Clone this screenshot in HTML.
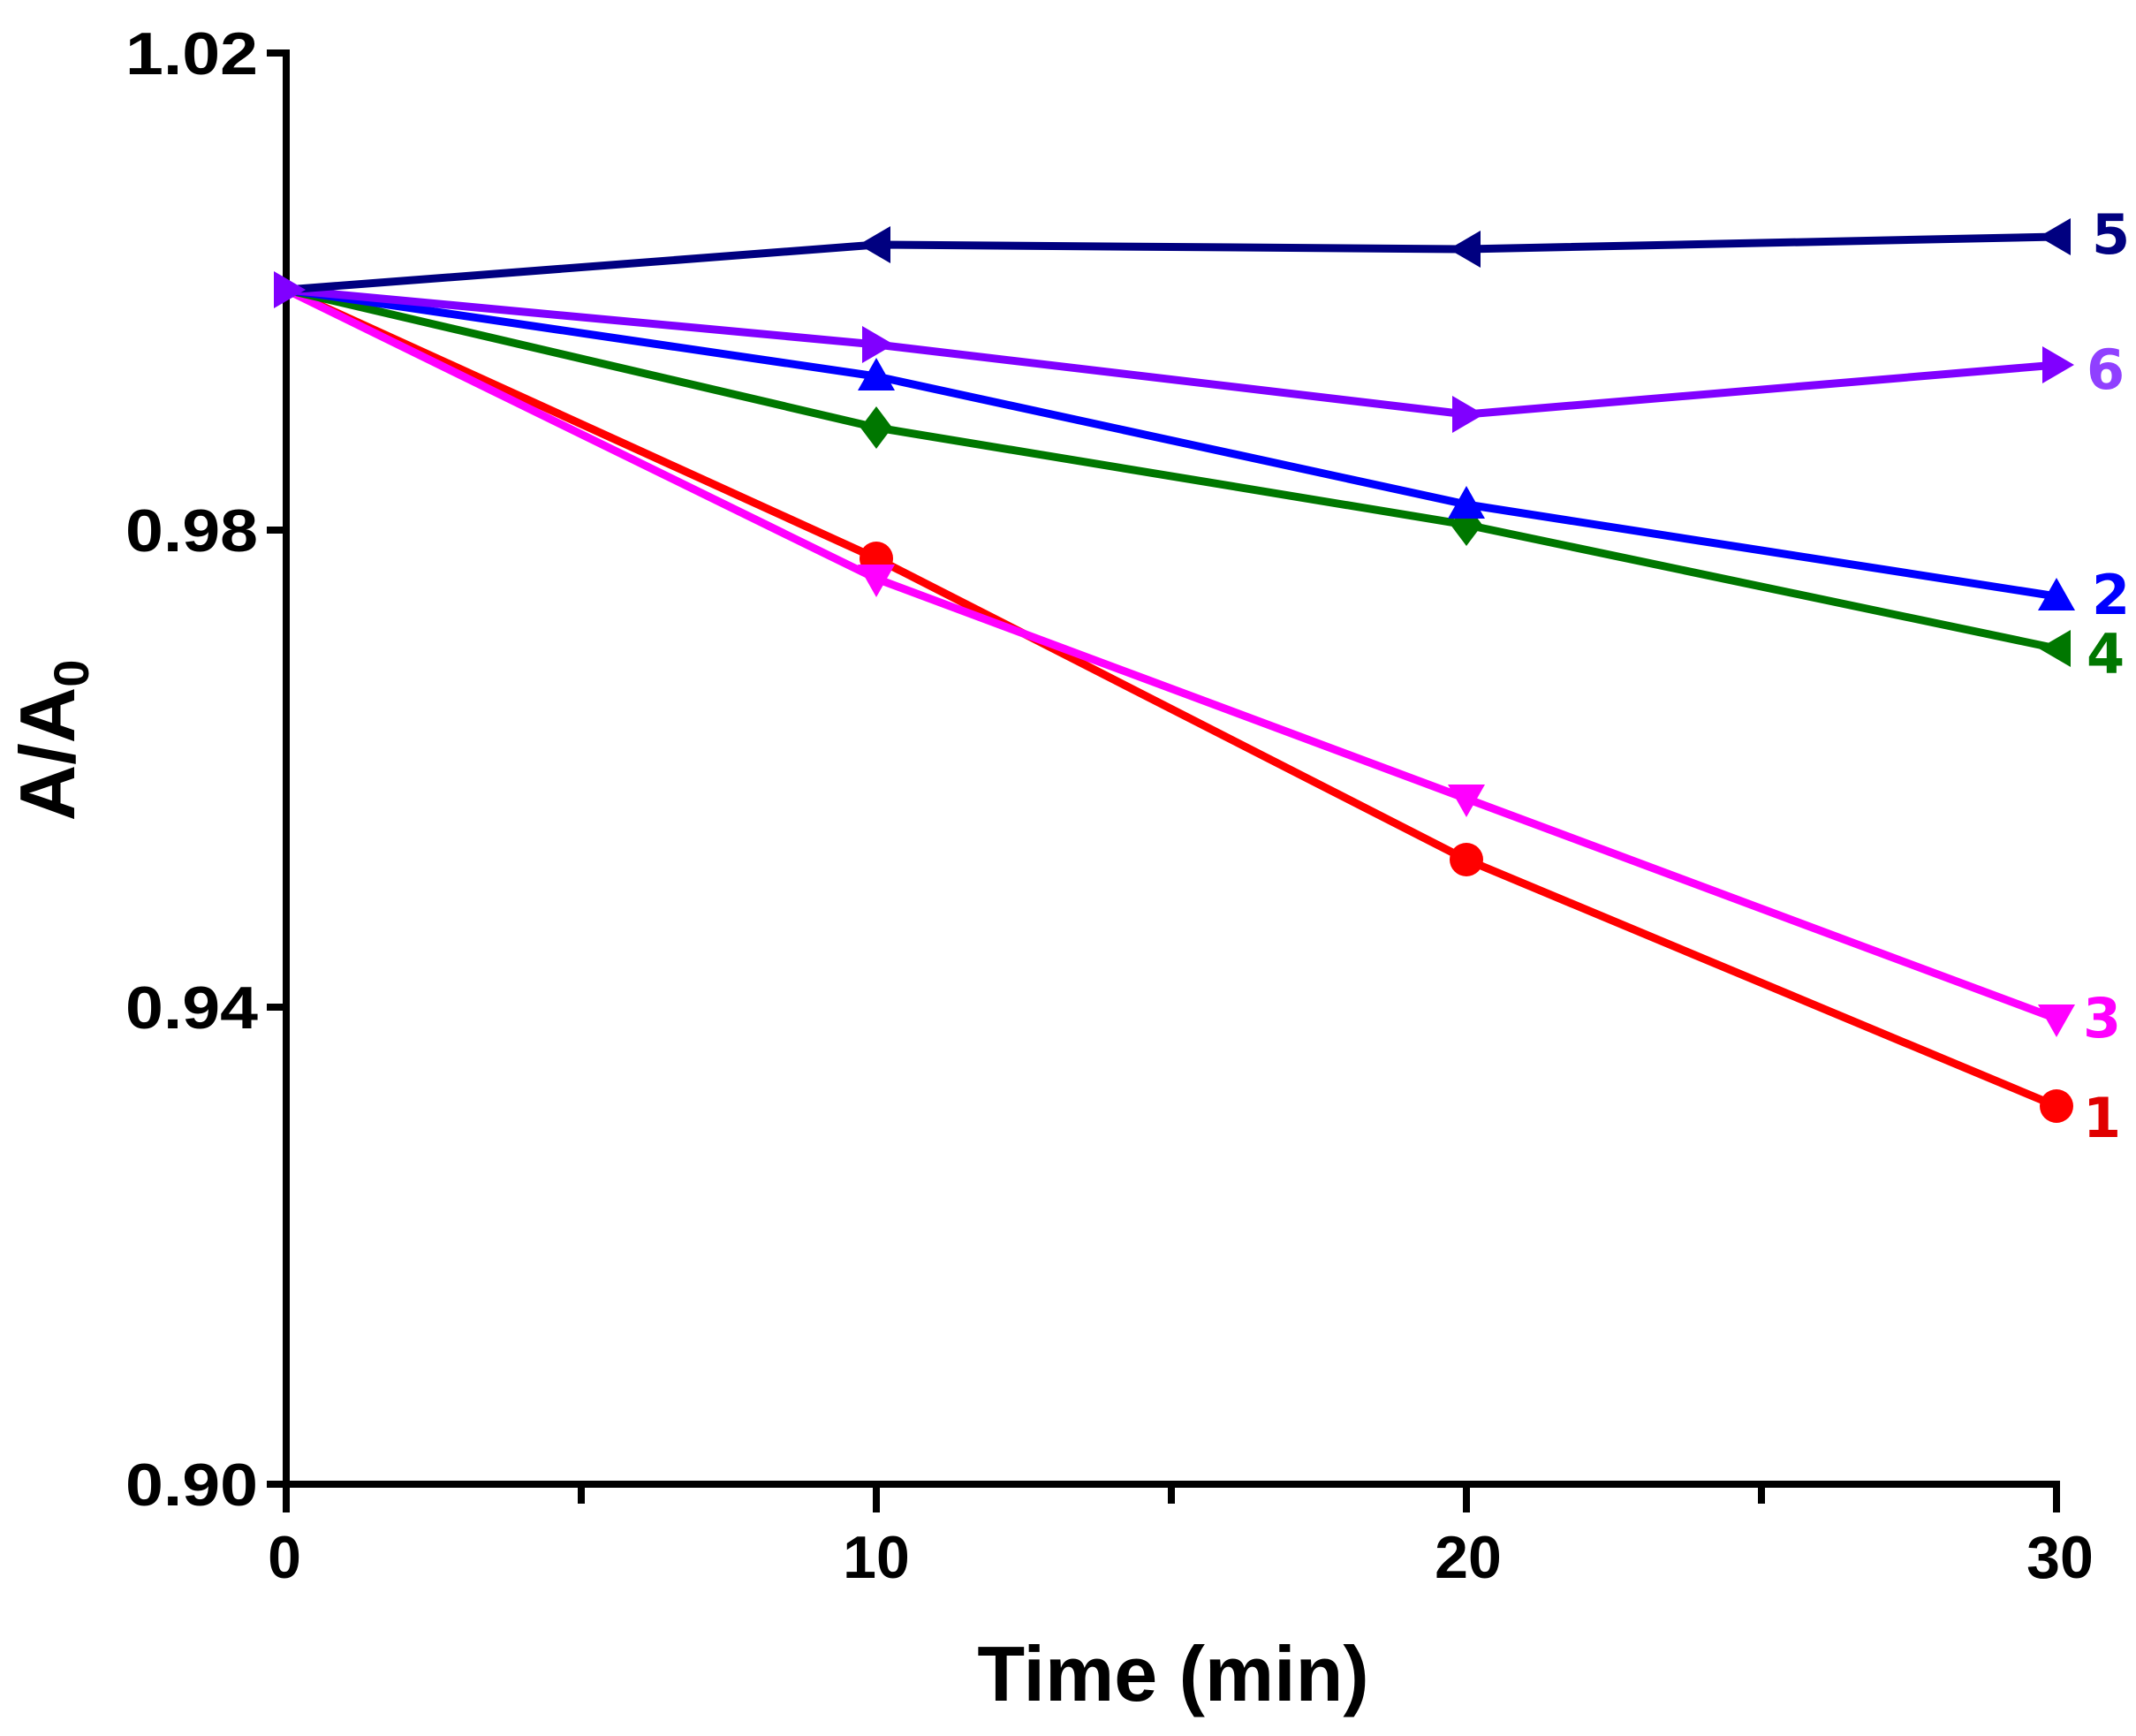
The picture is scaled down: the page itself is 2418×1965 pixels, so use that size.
<!DOCTYPE html>
<html><head><meta charset="utf-8"><style>html,body{margin:0;padding:0;background:#fff}</style></head>
<body>
<svg width="2418" height="1960" viewBox="0 0 2418 1960" xmlns="http://www.w3.org/2000/svg" font-family="Liberation Sans, Arial, sans-serif" font-weight="bold">
<rect width="2418" height="1960" fill="#fff"/>
<defs>
<path id="tl" d="M-20,0 L16,-21 L16,21 Z"/>
<path id="tr" d="M20,0 L-16,-21 L-16,21 Z"/>
<path id="tu" d="M0,-21 L21,16 L-21,16 Z"/>
<path id="td" d="M0,21 L21,-16 L-21,-16 Z"/>
<path id="dm" d="M0,-24 L18,0 L0,24 L-18,0 Z"/>
</defs>
<g stroke="#000" stroke-width="8" fill="none">
<line x1="324" y1="56" x2="324" y2="1684"/>
<line x1="320" y1="1680" x2="2332" y2="1680"/>
<line x1="302" y1="60" x2="324" y2="60"/>
<line x1="302" y1="600" x2="324" y2="600"/>
<line x1="302" y1="1140" x2="324" y2="1140"/>
<line x1="302" y1="1680" x2="324" y2="1680"/>
<line x1="324" y1="1680" x2="324" y2="1712"/>
<line x1="992" y1="1680" x2="992" y2="1712"/>
<line x1="1660" y1="1680" x2="1660" y2="1712"/>
<line x1="2328" y1="1680" x2="2328" y2="1712"/>
<line x1="658" y1="1680" x2="658" y2="1702"/>
<line x1="1326" y1="1680" x2="1326" y2="1702"/>
<line x1="1994" y1="1680" x2="1994" y2="1702"/>
</g>
<g font-size="68" text-anchor="end" fill="#000">
<text x="292" y="84" textLength="150" lengthAdjust="spacingAndGlyphs">1.02</text>
<text x="292" y="624" textLength="150" lengthAdjust="spacingAndGlyphs">0.98</text>
<text x="292" y="1164" textLength="150" lengthAdjust="spacingAndGlyphs">0.94</text>
<text x="292" y="1704" textLength="150" lengthAdjust="spacingAndGlyphs">0.90</text>
</g>
<g font-size="68" text-anchor="middle" fill="#000">
<text x="322" y="1786">0</text>
<text x="992" y="1786">10</text>
<text x="1662" y="1786">20</text>
<text x="2332" y="1786">30</text>
</g>
<text x="1328" y="1925" font-size="88" text-anchor="middle">Time (min)</text>
<text transform="translate(84,838) rotate(-90)" font-size="88" text-anchor="middle">A/A<tspan font-size="56" dy="16">0</tspan></text>
<g fill="none" stroke-width="9" stroke-linejoin="round">
<polyline stroke="#ff0000" points="324,328 992,632 1660,973 2328,1252"/>
<polyline stroke="#ff00ff" points="324,328 992,655 1660,904 2328,1153"/>
<polyline stroke="#007700" points="324,328 992,484 1660,594 2328,734"/>
<polyline stroke="#0000ff" points="324,328 992,426 1660,571 2328,675"/>
<polyline stroke="#8000ff" points="324,328 992,390 1660,469 2328,413"/>
<polyline stroke="#000080" points="324,328 992,277 1660,282 2328,268"/>
</g>
<g fill="#ff0000"><circle cx="992" cy="632" r="19"/><circle cx="1660" cy="973" r="19"/><circle cx="2328" cy="1252" r="19"/></g>
<g fill="#ff00ff"><use href="#td" x="992" y="655"/><use href="#td" x="1660" y="904"/><use href="#td" x="2328" y="1153"/></g>
<g fill="#007700"><use href="#dm" x="992" y="484"/><use href="#dm" x="1660" y="594"/><use href="#tl" x="2328" y="734"/></g>
<g fill="#0000ff"><use href="#tu" x="992" y="426"/><use href="#tu" x="1660" y="571"/><use href="#tu" x="2328" y="675"/></g>
<g fill="#8000ff"><use href="#tr" x="992" y="390"/><use href="#tr" x="1660" y="469"/><use href="#tr" x="2328" y="413"/><use href="#tr" x="326" y="328"/></g>
<g fill="#000080"><use href="#tl" x="992" y="277"/><use href="#tl" x="1660" y="282"/><use href="#tl" x="2328" y="268"/></g>
<g font-size="62" font-family="DejaVu Sans, Liberation Sans, sans-serif" font-weight="bold">
<text x="2368" y="287" fill="#000080">5</text>
<text x="2362" y="440" fill="#9040ff">6</text>
<text x="2368" y="695" fill="#0000ff">2</text>
<text x="2362" y="762" fill="#007700">4</text>
<text x="2358" y="1174" fill="#ff00ff">3</text>
<text x="2358" y="1287" fill="#e00000">1</text>
</g>
</svg>
</body></html>
